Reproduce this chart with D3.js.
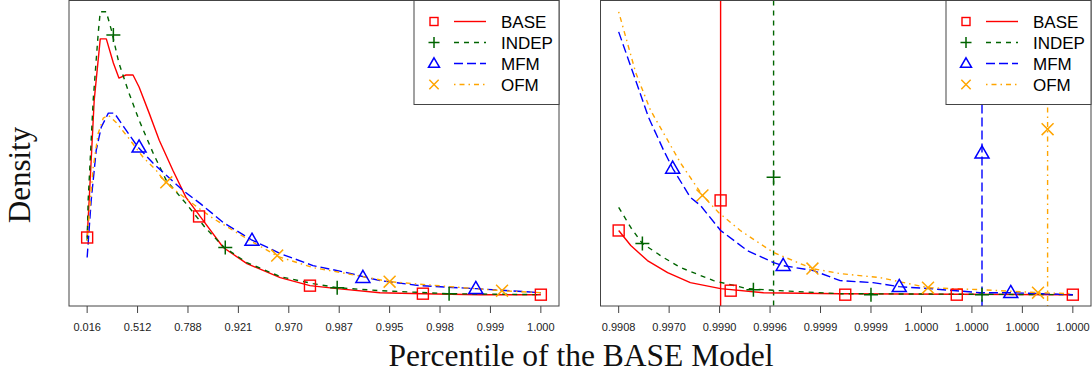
<!DOCTYPE html>
<html>
<head>
<meta charset="utf-8">
<script src="https://cdnjs.cloudflare.com/ajax/libs/d3/7.8.5/d3.min.js"></script>
<style>
  html, body { margin: 0; padding: 0; background: #fff; }
  svg { display: block; }
</style>
</head>
<body>
<svg id="chart" width="1092" height="383"></svg>
<script>
// tick labels (percentiles of the BASE model), placed at positions 0..9
const leftTickLabels = ['0.016', '0.512', '0.788', '0.921', '0.970', '0.987', '0.995', '0.998', '0.999', '1.000'];
const rightTickLabels = ['0.9908', '0.9970', '0.9990', '0.9996', '0.9999', '0.9999', '1.0000', '1.0000', '1.0000', '1.0000'];

const seriesNames = ['BASE', 'INDEP', 'MFM', 'OFM'];

// left panel curves: [position, density]
const leftBase = [[0, 0.58], [0.04, 0.95], [0.14, 1.95], [0.26, 2.56], [0.38, 2.56], [0.52, 2.32], [0.63, 2.17],
  [0.77, 2.2], [0.91, 2.2], [1.03, 2.08], [1.23, 1.82], [1.43, 1.55], [1.7, 1.25], [1.96, 0.98], [2.3, 0.75],
  [2.7, 0.48], [3.17, 0.32], [3.83, 0.18], [4.42, 0.1], [4.96, 0.07], [5.81, 0.03], [6.66, 0.02], [7.79, 0.01], [9, 0.01]];
const leftIndep = [[0, 0.55], [0.02, 0.95], [0.12, 1.95], [0.22, 2.62], [0.26, 2.83], [0.38, 2.83], [0.48, 2.65],
  [0.63, 2.32], [0.83, 2.02], [1.03, 1.75], [1.31, 1.42], [1.57, 1.15], [1.96, 0.92], [2.34, 0.68], [2.72, 0.48],
  [3.17, 0.33], [3.83, 0.19], [4.48, 0.12], [4.96, 0.08], [5.81, 0.05], [7.18, 0.02], [9, 0.01]];
const leftMfm = [[0, 0.38], [0.08, 0.95], [0.18, 1.45], [0.28, 1.68], [0.42, 1.82], [0.54, 1.82], [0.73, 1.68],
  [1.01, 1.48], [1.31, 1.32], [1.57, 1.2], [1.9, 1.05], [2.24, 0.92], [2.7, 0.73], [3.25, 0.56], [3.83, 0.42],
  [4.48, 0.3], [5.15, 0.23], [5.81, 0.15], [6.6, 0.1], [7.71, 0.07], [9, 0.03]];
const leftOfm = [[0, 0.55], [0.02, 0.68], [0.12, 1.28], [0.22, 1.62], [0.32, 1.77], [0.42, 1.8], [0.57, 1.73],
  [0.81, 1.58], [1.11, 1.38], [1.37, 1.25], [1.55, 1.13], [1.82, 1.02], [2.22, 0.87], [2.5, 0.77], [3.23, 0.55],
  [3.79, 0.39], [4.48, 0.28], [5.15, 0.22], [6, 0.14], [7.2, 0.09], [8.23, 0.05], [9, 0.03]];

// left panel point symbols
const leftBaseMarks = [[0, 0.58], [2.22, 0.79], [4.42, 0.1], [6.66, 0.02], [9, 0.01]];
const leftIndepMarks = [[0.52, 2.6], [2.74, 0.48], [4.96, 0.08], [7.18, 0.02]];
const leftMfmMarks = [[1.03, 1.48], [3.27, 0.55], [5.47, 0.18], [7.71, 0.07]];
const leftOfmMarks = [[1.57, 1.13], [3.77, 0.4], [6, 0.14], [8.23, 0.05]];

// right panel curves
const rightBase = [[0, 0.65], [0.24, 0.5], [0.57, 0.35], [0.97, 0.23], [1.42, 0.13], [2.02, 0.07], [2.87, 0.03],
  [4.39, 0.02], [9, 0.01]];
const rightIndep = [[0, 0.88], [0.24, 0.68], [0.47, 0.52], [0.89, 0.38], [1.23, 0.28], [1.88, 0.15], [2.55, 0.07],
  [3.2, 0.05], [4.39, 0.02], [9, 0.01]];
const rightMfm = [[0, 2.63], [0.3, 2.2], [0.59, 1.78], [0.89, 1.45], [1.07, 1.27], [1.42, 0.98], [1.62, 0.9],
  [2.02, 0.65], [2.55, 0.45], [3.07, 0.33], [3.26, 0.3], [3.86, 0.25], [4.39, 0.15], [5.04, 0.13], [5.56, 0.09],
  [6.17, 0.07], [7.16, 0.03], [7.77, 0.03], [9, 0.01]];
const rightOfm = [[0, 2.83], [0.34, 2.22], [0.63, 1.85], [0.97, 1.55], [1.23, 1.32], [1.66, 1.0], [1.98, 0.83],
  [2.41, 0.65], [3.07, 0.43], [3.84, 0.27], [4.39, 0.22], [5.18, 0.18], [6.13, 0.08], [7.16, 0.06], [8.31, 0.03], [9, 0.02]];

const rightBaseMarks = [[0, 0.65], [2.22, 0.05], [4.49, 0.01], [6.7, 0.01], [9, 0.01]];
const rightIndepMarks = [[0.47, 0.52], [2.67, 0.06], [5, 0.01], [7.2, 0.01]];
const rightMfmMarks = [[1.07, 1.27], [3.26, 0.3], [5.56, 0.09], [7.77, 0.03]];
const rightOfmMarks = [[1.66, 1.0], [3.84, 0.27], [6.13, 0.08], [8.31, 0.03]];

// right panel cut-offs (vertical lines) and the symbol drawn on each
const rightCutoffs = [2.02, 3.07, 7.2, 8.5];
const rightCutoffMarks = [0.95, 1.18, 1.42, 1.66];

const styles = [
  { color: '#ff0000', dash: null, shape: 'square' },
  { color: '#006400', dash: '5,5', shape: 'plus' },
  { color: '#0000ff', dash: '9,4', shape: 'triangle' },
  { color: '#ffa500', dash: '1.5,4,5,4', shape: 'cross' },
];

const svg = d3.select('#chart');

function drawSymbol(g, shape, x, y, s, color) {
  const h = s / 2;
  if (shape === 'square') {
    g.append('rect').attr('x', x - h).attr('y', y - h).attr('width', s).attr('height', s)
      .attr('fill', 'none').attr('stroke', color).attr('stroke-width', 1.4);
  } else if (shape === 'plus') {
    g.append('path').attr('d', `M${x - h},${y}H${x + h}M${x},${y - h}V${y + h}`)
      .attr('stroke', color).attr('stroke-width', 1.5).attr('fill', 'none');
  } else if (shape === 'triangle') {
    const th = s * 0.866;
    g.append('path').attr('d', `M${x},${y - th * 0.6}L${x + h},${y + th * 0.4}L${x - h},${y + th * 0.4}Z`)
      .attr('stroke', color).attr('stroke-width', 1.5).attr('fill', 'none');
  } else {
    const c = h * 0.85;
    g.append('path').attr('d', `M${x - c},${y - c}L${x + c},${y + c}M${x - c},${y + c}L${x + c},${y - c}`)
      .attr('stroke', color).attr('stroke-width', 1.5).attr('fill', 'none');
  }
}

function drawPanel(cfg) {
  const { x0, x1, y0, y1, id } = cfg;
  const allY = cfg.curves.flat().map((d) => d[1]);
  const yMin = d3.min(allY), yMax = d3.max(allY);
  const pad = (yMax - yMin) * 0.04;

  const x = d3.scaleLinear().domain([-0.36, 9.36]).range([x0, x1]);
  const y = d3.scaleLinear().domain([yMin - pad, yMax + pad]).range([y1, y0]);

  const g = svg.append('g');
  g.append('clipPath').attr('id', 'clip' + id)
    .append('rect').attr('x', x0).attr('y', y0).attr('width', x1 - x0).attr('height', y1 - y0);

  const plot = g.append('g').attr('clip-path', `url(#clip${id})`);
  const line = d3.line().x((d) => x(d[0])).y((d) => y(d[1]));

  // vertical cut-off lines
  (cfg.cutoffs || []).forEach((c, i) => {
    plot.append('line').attr('x1', x(c)).attr('x2', x(c)).attr('y1', y0).attr('y2', y1)
      .attr('stroke', styles[i].color).attr('stroke-width', 1.4)
      .attr('stroke-dasharray', styles[i].dash);
  });

  cfg.curves.forEach((data, i) => {
    plot.append('path').datum(data).attr('d', line)
      .attr('fill', 'none').attr('stroke', styles[i].color).attr('stroke-width', 1.4)
      .attr('stroke-dasharray', styles[i].dash).attr('stroke-linejoin', 'round');
  });

  cfg.marks.forEach((pts, i) => {
    pts.forEach((p) => drawSymbol(plot, styles[i].shape, x(p[0]), y(p[1]),
      styles[i].shape === 'square' ? 11 : 14, styles[i].color));
  });
  (cfg.cutoffMarks || []).forEach((v, i) => {
    drawSymbol(plot, styles[i].shape, x(cfg.cutoffs[i]), y(v),
      styles[i].shape === 'square' ? 11 : 14, styles[i].color);
  });

  // box
  g.append('rect').attr('x', x0).attr('y', y0).attr('width', x1 - x0).attr('height', y1 - y0)
    .attr('fill', 'none').attr('stroke', '#444').attr('stroke-width', 1);

  // x axis ticks + labels
  const ticks = g.append('g');
  cfg.tickLabels.forEach((lab, i) => {
    ticks.append('line').attr('x1', x(i)).attr('x2', x(i)).attr('y1', y1).attr('y2', y1 + 7)
      .attr('stroke', '#444');
    ticks.append('text').attr('x', x(i)).attr('y', y1 + 25).attr('text-anchor', 'middle')
      .attr('font-family', 'Liberation Sans, Arial, sans-serif').attr('font-size', 11)
      .attr('fill', '#222').text(lab);
  });

  // legend, top-right corner
  const lw = 145, lh = 104;
  const lg = g.append('g').attr('transform', `translate(${x1 - lw},${y0})`);
  lg.append('rect').attr('width', lw).attr('height', lh).attr('fill', '#fff')
    .attr('stroke', '#444').attr('stroke-width', 1);
  seriesNames.forEach((name, i) => {
    const cy = 21 + i * 21;
    drawSymbol(lg, styles[i].shape, 20, cy, styles[i].shape === 'square' ? 8 : 11, styles[i].color);
    lg.append('line').attr('x1', 40).attr('x2', 72).attr('y1', cy).attr('y2', cy)
      .attr('stroke', styles[i].color).attr('stroke-width', 1.4).attr('stroke-dasharray', styles[i].dash);
    lg.append('text').attr('x', 87).attr('y', cy + 6)
      .attr('font-family', 'Liberation Sans, Arial, sans-serif').attr('font-size', 17)
      .attr('fill', '#000').text(name);
  });
}

drawPanel({
  id: 'L', x0: 69, x1: 559, y0: 0.5, y1: 306,
  curves: [leftBase, leftIndep, leftMfm, leftOfm],
  marks: [leftBaseMarks, leftIndepMarks, leftMfmMarks, leftOfmMarks],
  tickLabels: leftTickLabels,
});

drawPanel({
  id: 'R', x0: 600.5, x1: 1091, y0: 0.5, y1: 306,
  curves: [rightBase, rightIndep, rightMfm, rightOfm],
  marks: [rightBaseMarks, rightIndepMarks, rightMfmMarks, rightOfmMarks],
  cutoffs: rightCutoffs, cutoffMarks: rightCutoffMarks,
  tickLabels: rightTickLabels,
});

// axis titles
svg.append('text').attr('x', 581).attr('y', 366).attr('text-anchor', 'middle')
  .attr('font-family', 'Liberation Serif, Times New Roman, serif').attr('font-size', 31.5)
  .attr('fill', '#111').text('Percentile of the BASE Model');
svg.append('text').attr('transform', 'translate(30,175) rotate(-90)').attr('text-anchor', 'middle')
  .attr('font-family', 'Liberation Serif, Times New Roman, serif').attr('font-size', 31)
  .attr('fill', '#111').text('Density');
</script>
</body>
</html>
